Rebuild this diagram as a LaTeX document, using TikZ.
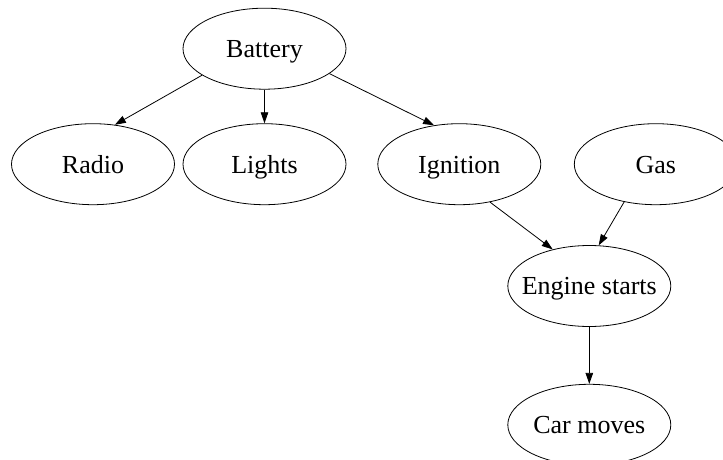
\documentclass[tikz,border=0pt]{standalone}
\usepackage{fontspec}
\setmainfont{Liberation Serif}
\usetikzlibrary{arrows.meta}
\usetikzlibrary{shapes.geometric,positioning}

\tikzset{
    event/.style={ellipse,draw,line width=0.8pt,inner sep=0pt,
        minimum width=163pt,minimum height=81pt,
        text height=23pt,text depth=5.4pt,
        font=\fontsize{26}{30}\selectfont},
    cause/.style={-{Triangle[length=11pt,width=7.5pt]},line width=0.8pt}
}

\begin{document}
\begin{tikzpicture}[x=1pt,y=-1pt]
    \useasboundingbox (0,0) rectangle (723,460);

    \node[event] (battery) at (264.5,48.7) {Battery};
    \node[event] (lights) [below=33.7pt of battery] {Lights};
    \node[event] (radio) [left=7.7pt of lights] {Radio};
    \node[event] (ignition) [right=31pt of lights] {Ignition};
    \node[event] (gas) [right=32.7pt of ignition] {Gas};
    \node[event,inner xsep=-30pt] (engine) [below=40pt of ignition, xshift=130pt] {Engine starts};
    \node[event] (car) [below=57pt of engine] {Car moves};

    \path[cause] (battery.203.6) edge (radio.61.4)
                 (battery) edge (lights)
                 (battery.339.4) edge (ignition.123)
                 (ignition.309.7) edge (engine.135)
                 (gas.230) edge (engine.77)
                 (engine) edge (car);
\end{tikzpicture}
\end{document}
